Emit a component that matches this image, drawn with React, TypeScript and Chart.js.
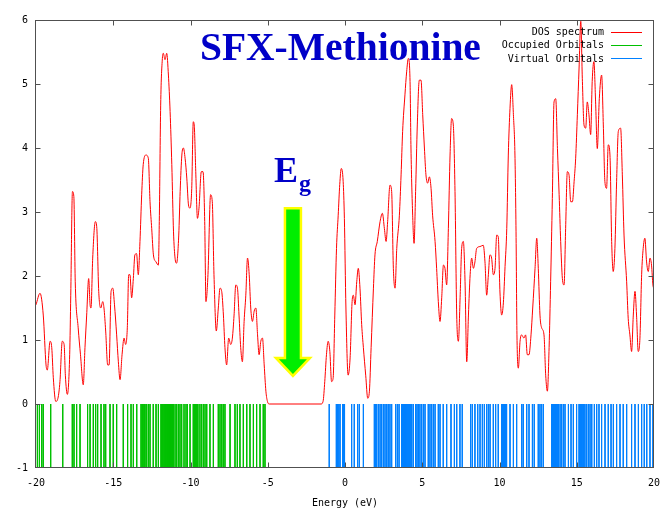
import React, { useEffect, useRef } from 'react';
import { Chart, registerables } from 'chart.js';

Chart.register(...registerables);

// ---- Data ----
const dosEnergy = [
  -20.0, -19.74, -19.53, -19.35, -19.27, -19.09, -18.98, -18.88, -18.72, -18.58, -18.45, -18.3, -18.18, -18.1, -17.97,
  -17.82, -17.75, -17.64, -17.55, -17.46, -17.27, -17.12, -16.94, -16.83, -16.72, -16.59, -16.5, -16.44, -16.33, -16.16,
  -16.07, -15.94, -15.81, -15.68, -15.6, -15.49, -15.36, -15.27, -15.14, -15.03, -14.92, -14.78, -14.67, -14.56, -14.43,
  -14.3, -14.2, -14.09, -14.0, -13.92, -13.81, -13.7, -13.6, -13.49, -13.38, -13.27, -13.16, -13.06, -12.88, -12.73,
  -12.62, -12.51, -12.4, -12.23, -12.08, -12.02, -11.93, -11.82, -11.76, -11.65, -11.54, -11.43, -11.32, -11.21, -11.1,
  -11.0, -10.9, -10.76, -10.67, -10.56, -10.46, -10.35, -10.24, -10.13, -10.03, -9.92, -9.82, -9.76, -9.66, -9.55,
  -9.45, -9.3, -9.19, -9.08, -9.0, -8.87, -8.7, -8.59, -8.48, -8.33, -8.2, -8.09, -7.98, -7.87, -7.77,
  -7.66, -7.53, -7.4, -7.29, -7.18, -7.07, -6.96, -6.86, -6.75, -6.64, -6.53, -6.42, -6.31, -6.2, -6.1,
  -5.99, -5.88, -5.77, -5.66, -5.56, -5.45, -5.34, -5.23, -5.12, -5.02, -4.9, -1.55, -1.42, -1.31, -1.2,
  -1.09, -0.98, -0.87, -0.77, -0.66, -0.55, -0.44, -0.34, -0.24, -0.12, -0.04, 0.06, 0.2, 0.33, 0.46,
  0.54, 0.65, 0.76, 0.86, 0.97, 1.08, 1.19, 1.34, 1.47, 1.58, 1.69, 1.84, 1.94, 2.09, 2.27,
  2.42, 2.55, 2.66, 2.76, 2.91, 3.02, 3.13, 3.24, 3.35, 3.52, 3.63, 3.73, 3.88, 3.99, 4.1,
  4.21, 4.27, 4.38, 4.47, 4.57, 4.68, 4.81, 4.92, 5.03, 5.14, 5.24, 5.35, 5.46, 5.57, 5.67,
  5.83, 5.93, 6.04, 6.15, 6.26, 6.37, 6.47, 6.58, 6.69, 6.8, 6.9, 7.01, 7.12, 7.23, 7.34,
  7.45, 7.55, 7.66, 7.77, 7.88, 7.99, 8.1, 8.2, 8.31, 8.41, 8.52, 8.74, 8.95, 9.06, 9.17,
  9.28, 9.38, 9.49, 9.6, 9.71, 9.82, 9.92, 10.03, 10.14, 10.25, 10.36, 10.47, 10.57, 10.68, 10.79,
  10.9, 11.0, 11.07, 11.13, 11.22, 11.33, 11.43, 11.58, 11.69, 11.8, 11.91, 12.04, 12.15, 12.3, 12.41,
  12.51, 12.62, 12.73, 12.88, 12.99, 13.1, 13.21, 13.31, 13.42, 13.53, 13.64, 13.75, 13.86, 13.96, 14.07,
  14.18, 14.28, 14.39, 14.5, 14.61, 14.72, 14.83, 14.93, 15.04, 15.15, 15.26, 15.36, 15.47, 15.58, 15.68,
  15.79, 15.9, 16.0, 16.11, 16.22, 16.33, 16.46, 16.61, 16.72, 16.82, 16.93, 17.04, 17.15, 17.26, 17.36,
  17.47, 17.58, 17.69, 17.84, 17.95, 18.06, 18.23, 18.33, 18.44, 18.55, 18.66, 18.77, 18.87, 18.98, 19.09,
  19.2, 19.3, 19.41, 19.52, 19.63, 19.74, 19.84, 19.93, 20.0,
];

const dosValue = [
  1.55, 1.73, 1.39, 0.61, 0.53, 0.98, 0.88, 0.41, 0.04, 0.09, 0.35, 0.98, 0.93, 0.45, 0.15,
  0.77, 1.7, 3.32, 3.24, 1.91, 1.19, 0.77, 0.3, 0.88, 1.39, 1.96, 1.55, 1.5, 2.28, 2.85,
  2.77, 1.76, 1.5, 1.6, 1.5, 1.14, 0.61, 0.61, 1.76, 1.81, 1.55, 1.08, 0.66, 0.38, 0.77,
  1.03, 0.93, 1.19, 2.02, 2.02, 1.66, 1.96, 2.33, 2.35, 2.02, 2.54, 3.27, 3.74, 3.89, 3.84,
  3.16, 2.74, 2.33, 2.22, 2.17, 2.85, 4.67, 5.4, 5.48, 5.38, 5.48, 5.14, 4.57, 3.74, 2.69,
  2.28, 2.2, 2.64, 3.32, 3.89, 4.0, 3.84, 3.53, 3.11, 3.06, 3.37, 4.41, 4.36, 3.63, 2.9,
  3.06, 3.63, 3.63, 2.85, 1.6, 2.02, 3.27, 3.16, 2.02, 1.14, 1.5, 1.81, 1.76, 1.39, 0.88,
  0.61, 1.03, 0.93, 1.03, 1.39, 1.86, 1.81, 1.39, 0.88, 0.66, 1.29, 1.7, 2.28, 2.02, 1.5,
  1.29, 1.45, 1.5, 1.08, 0.77, 0.98, 1.03, 0.61, 0.2, 0.04, 0.0, 0.0, 0.04, 0.35, 0.77,
  0.98, 0.82, 0.35, 0.4, 1.39, 2.43, 2.95, 3.43, 3.68, 3.48, 2.9, 1.5, 0.45, 0.72, 1.6,
  1.7, 1.55, 1.91, 2.12, 1.81, 1.24, 0.88, 0.45, 0.09, 0.2, 0.88, 1.81, 2.33, 2.54, 2.85,
  2.98, 2.74, 2.54, 2.85, 3.42, 3.32, 2.12, 1.81, 2.43, 2.95, 3.58, 4.26, 4.83, 5.19, 5.4,
  5.04, 4.0, 2.95, 2.51, 3.32, 4.36, 5.06, 5.06, 4.52, 4.0, 3.58, 3.45, 3.55, 3.37, 2.95,
  2.54, 2.12, 1.6, 1.29, 1.66, 2.17, 2.12, 1.86, 2.74, 3.89, 4.46, 4.36, 3.32, 1.39, 0.98,
  1.66, 2.43, 2.54, 1.91, 0.66, 1.39, 2.02, 2.28, 2.12, 2.22, 2.43, 2.46, 2.48, 2.22, 1.7,
  2.02, 2.33, 2.28, 2.02, 2.12, 2.64, 2.61, 1.75, 1.39, 1.58, 2.15, 2.74, 3.89, 4.62, 4.99,
  4.52, 3.89, 2.69, 1.08, 0.56, 0.98, 1.08, 1.03, 1.08, 0.77, 0.77, 1.08, 1.5, 2.12, 2.59,
  2.12, 1.39, 1.19, 1.08, 0.45, 0.2, 0.88, 1.91, 3.21, 4.72, 4.77, 3.99, 3.27, 2.54, 1.96,
  1.86, 2.74, 3.63, 3.58, 3.16, 3.16, 3.48, 3.84, 4.52, 5.25, 5.98, 5.09, 4.36, 4.31, 4.72,
  4.52, 4.21, 5.04, 5.35, 4.72, 3.99, 4.77, 5.14, 4.36, 3.48, 3.37, 4.05, 3.89, 2.54, 2.07,
  2.43, 3.48, 4.26, 4.31, 3.58, 2.64, 1.91, 1.34, 1.08, 0.82, 1.39, 1.76, 1.39, 0.82, 1.03,
  2.02, 2.43, 2.59, 2.22, 2.07, 2.28, 2.17, 1.86, 1.8,
];

const occupiedEnergies = [
  -19.91, -19.78, -19.63, -19.53, -19.05, -18.27, -17.65, -17.54, -17.37, -17.15, -16.66, -16.5, -16.29, -16.14,
  -16.01, -15.79, -15.6, -15.49, -15.21, -15.0, -14.78, -14.35, -14.07, -13.85, -13.7, -13.48, -13.2, -13.13,
  -13.07, -13.0, -12.94, -12.84, -12.73, -12.62, -12.41, -12.23, -12.08, -11.91, -11.85, -11.79, -11.72, -11.66,
  -11.6, -11.54, -11.48, -11.42, -11.36, -11.3, -11.24, -11.17, -11.11, -11.0, -10.9, -10.79, -10.68, -10.57,
  -10.42, -10.29, -10.2, -10.03, -9.82, -9.76, -9.7, -9.64, -9.58, -9.52, -9.39, -9.28, -9.17, -9.06, -8.95,
  -8.74, -8.52, -8.2, -8.09, -7.98, -7.88, -7.77, -7.44, -7.12, -6.97, -6.8, -6.58, -6.36, -6.15, -5.93,
  -5.72, -5.5, -5.29, -5.18,
];

const virtualEnergies = [
  -1.02, -0.56, -0.48, -0.4, -0.32, -0.15, -0.09, -0.03, 0.43, 0.6, 0.82, 0.93, 1.19, 1.9, 1.98, 2.05, 2.16,
  2.27, 2.37, 2.48, 2.59, 2.7, 2.8, 2.91, 3.02, 3.28, 3.39, 3.5, 3.67, 3.73, 3.79, 3.85, 3.91, 3.97, 4.03,
  4.09, 4.15, 4.21, 4.27, 4.32, 4.42, 4.57, 4.66, 4.75, 4.85, 4.96, 5.07, 5.18, 5.39, 5.5, 5.61, 5.72, 5.83,
  6.04, 6.15, 6.36, 6.58, 6.86, 7.08, 7.23, 7.44, 7.59, 8.13, 8.24, 8.41, 8.59, 8.74, 8.89, 9.02, 9.17, 9.28,
  9.39, 9.6, 9.75, 9.92, 10.14, 10.2, 10.26, 10.32, 10.38, 10.46, 10.68, 10.9, 11.11, 11.44, 11.54, 11.76,
  11.91, 12.13, 12.25, 12.51, 12.62, 12.73, 12.84, 13.38, 13.44, 13.5, 13.56, 13.62, 13.68, 13.74, 13.81,
  13.92, 14.02, 14.13, 14.24, 14.46, 14.63, 14.78, 14.99, 15.15, 15.21, 15.27, 15.33, 15.4, 15.46, 15.53,
  15.64, 15.75, 15.86, 15.97, 16.14, 16.29, 16.44, 16.61, 16.83, 17.04, 17.22, 17.37, 17.58, 17.8, 18.01,
  18.23, 18.55, 18.77, 18.99, 19.2, 19.37, 19.53, 19.74, 19.93,
];

const seriesLabels = ['DOS spectrum', 'Occupied Orbitals', 'Virtual Orbitals'];
const seriesColors = ['#ff0000', '#00c000', '#0080ff'];
const xLimits = [-20, 20];
const yLimits = [-1, 6];
const xStep = 5;
const yStep = 1;
const xAxisTitle = 'Energy (eV)';
const chartTitle = 'SFX-Methionine';
const gapMain = 'E';
const gapSub = 'g';
// Band-gap arrow annotation (data units)
const arrowEnergy = -3.37;
const arrowTop = 3.06;
const arrowHeadBase = 0.72;
const arrowTip = 0.44;

const MONO = '"DejaVu Sans Mono", monospace';
const FRAME = '#505050';

function impulses(list: number[]) {
  const out: { x: number; y: number | null }[] = [];
  for (const e of list) {
    out.push({ x: e, y: 0 }, { x: e, y: yLimits[0] }, { x: e, y: null });
  }
  return out;
}

const decorPlugin = {
  id: 'decor',
  afterDraw(chart: any) {
    const { ctx, chartArea } = chart;
    const xs = chart.scales.x;
    const ys = chart.scales.y;
    const L = Math.round(chartArea.left) - 0.5;
    const R = Math.round(chartArea.right) - 0.5;
    const T = Math.round(chartArea.top) + 0.5;
    const B = Math.round(chartArea.bottom) - 0.5;
    ctx.save();
    // frame
    ctx.strokeStyle = FRAME;
    ctx.lineWidth = 1;
    ctx.strokeRect(L, T, R - L, B - T);
    // inward ticks
    ctx.beginPath();
    for (let v = xLimits[0] + xStep; v < xLimits[1]; v += xStep) {
      const px = Math.round(xs.getPixelForValue(v)) + 0.5;
      ctx.moveTo(px, B);
      ctx.lineTo(px, B - 5);
      ctx.moveTo(px, T);
      ctx.lineTo(px, T + 5);
    }
    for (let v = yLimits[0] + yStep; v < yLimits[1]; v += yStep) {
      const py = Math.round(ys.getPixelForValue(v)) + 0.5;
      ctx.moveTo(L, py);
      ctx.lineTo(L + 5, py);
      ctx.moveTo(R, py);
      ctx.lineTo(R - 5, py);
    }
    ctx.stroke();

    // legend (gnuplot style: text then line sample)
    ctx.font = '10px ' + MONO;
    ctx.textAlign = 'right';
    ctx.textBaseline = 'middle';
    const textRight = chartArea.right - 50;
    chart.data.datasets.forEach((ds: any, i: number) => {
      const y = chartArea.top + 11.5 + i * 13.3;
      ctx.fillStyle = '#000';
      ctx.fillText(ds.label, textRight, y + 1);
      ctx.strokeStyle = ds.borderColor;
      ctx.lineWidth = 1;
      ctx.beginPath();
      ctx.moveTo(textRight + 7, Math.round(y) + 0.5);
      ctx.lineTo(textRight + 38, Math.round(y) + 0.5);
      ctx.stroke();
    });

    // title
    ctx.fillStyle = '#0000c8';
    ctx.textAlign = 'left';
    ctx.textBaseline = 'alphabetic';
    ctx.font = 'bold 39.5px "Liberation Serif", serif';
    ctx.fillText(chartTitle, chartArea.left + 164, chartArea.top + 40);

    // arrow
    const ax = xs.getPixelForValue(arrowEnergy);
    const aTop = ys.getPixelForValue(arrowTop);
    const aBase = ys.getPixelForValue(arrowHeadBase);
    const aTip = ys.getPixelForValue(arrowTip);
    const sw = 8;
    const hw = 17;
    ctx.beginPath();
    ctx.moveTo(ax - sw, aTop);
    ctx.lineTo(ax + sw, aTop);
    ctx.lineTo(ax + sw, aBase);
    ctx.lineTo(ax + hw, aBase);
    ctx.lineTo(ax, aTip);
    ctx.lineTo(ax - hw, aBase);
    ctx.lineTo(ax - sw, aBase);
    ctx.closePath();
    ctx.fillStyle = '#00ee00';
    ctx.fill();
    ctx.strokeStyle = '#ffff00';
    ctx.lineWidth = 2.5;
    ctx.lineJoin = 'miter';
    ctx.stroke();

    // E_g label
    ctx.fillStyle = '#0000c8';
    ctx.font = 'bold 36px "Liberation Serif", serif';
    const ex = ax - 19;
    const ey = aTop - 26;
    ctx.fillText(gapMain, ex, ey);
    const w = ctx.measureText(gapMain).width;
    ctx.font = 'bold 24px "Liberation Serif", serif';
    ctx.fillText(gapSub, ex + w + 1, ey + 9);
    ctx.restore();
  },
};

export default function App() {
  const ref = useRef<HTMLCanvasElement | null>(null);
  useEffect(() => {
    if (!ref.current) return;
    const dos = dosEnergy.map((e, i) => ({ x: e, y: dosValue[i] }));
    const chart = new Chart(ref.current, {
      type: 'line',
      data: {
        datasets: [
          {
            label: seriesLabels[0],
            data: dos,
            borderColor: seriesColors[0],
            borderWidth: 1,
            pointRadius: 0,
            cubicInterpolationMode: 'monotone',
            fill: false,
          },
          {
            label: seriesLabels[1],
            data: impulses(occupiedEnergies),
            borderColor: seriesColors[1],
            borderWidth: 1,
            pointRadius: 0,
            spanGaps: false,
            fill: false,
          },
          {
            label: seriesLabels[2],
            data: impulses(virtualEnergies),
            borderColor: seriesColors[2],
            borderWidth: 1,
            pointRadius: 0,
            spanGaps: false,
            fill: false,
          },
        ],
      },
      options: {
        responsive: false,
        animation: false,
        devicePixelRatio: 1,
        layout: { padding: { top: 20, right: 6, left: 0, bottom: 0 } },
        plugins: { legend: { display: false }, tooltip: { enabled: false }, title: { display: false } },
        scales: {
          x: {
            type: 'linear',
            min: xLimits[0],
            max: xLimits[1],
            grid: { display: false, drawTicks: false },
            border: { display: false },
            ticks: {
              stepSize: xStep,
              maxRotation: 0,
              autoSkip: false,
              padding: 9,
              color: '#000',
              font: { family: MONO, size: 10 },
            },
            title: {
              display: true,
              text: xAxisTitle,
              color: '#000',
              font: { family: MONO, size: 10 },
              padding: { top: 0, bottom: 3 },
            },
            afterFit: (s: any) => {
              s.height = 44;
              s.paddingLeft = 0;
              s.paddingRight = 0;
            },
          },
          y: {
            type: 'linear',
            min: yLimits[0],
            max: yLimits[1],
            grid: { display: false, drawTicks: false },
            border: { display: false },
            ticks: {
              stepSize: yStep,
              padding: 8,
              color: '#000',
              font: { family: MONO, size: 10 },
            },
            afterFit: (s: any) => {
              s.width = 36;
              s.paddingTop = 0;
              s.paddingBottom = 0;
            },
          },
        },
      },
      plugins: [decorPlugin],
    });
    return () => chart.destroy();
  }, []);
  return (
    <div style={{ position: 'fixed', left: 0, top: 0, width: 660, height: 512, background: '#fff' }}>
      <canvas ref={ref} width={660} height={512} style={{ display: 'block' }} />
    </div>
  );
}
